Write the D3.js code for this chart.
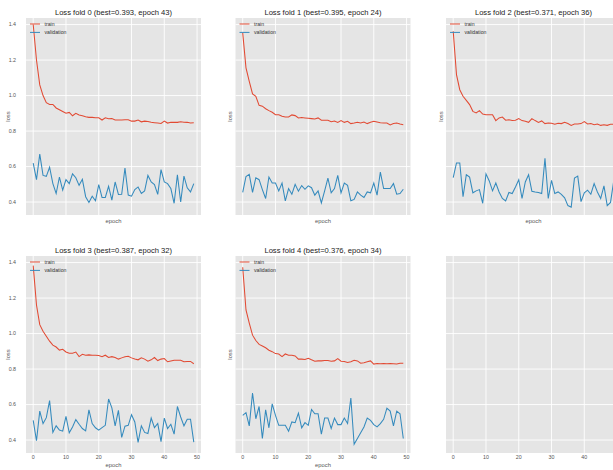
<!DOCTYPE html>
<html lang="en">
<head>
  <meta charset="UTF-8">
  <title>Loss folds</title>
  <script src="https://cdn.jsdelivr.net/npm/d3@7/dist/d3.min.js"></script>
  <style>
    body { margin: 0; background: #fff; }
    text { font-family: "Liberation Sans", Arial, sans-serif; }
  </style>
</head>
<body>
<div id="box"></div>
<script>
  // training loss per fold
  const train0 = [1.40, 1.20, 1.06, 1.00, 0.96, 0.95, 0.95, 0.93, 0.92, 0.91, 0.90, 0.905, 0.886, 0.90, 0.89, 0.886, 0.88, 0.877, 0.877, 0.875,
    0.875, 0.862, 0.875, 0.869, 0.871, 0.862, 0.862, 0.862, 0.864, 0.864, 0.856, 0.856, 0.862, 0.852, 0.856, 0.854, 0.849, 0.847, 0.845, 0.843,
    0.856, 0.845, 0.85, 0.849, 0.849, 0.852, 0.85, 0.849, 0.845, 0.847]
  const train1 = [1.353, 1.156, 1.08, 1.009, 0.996, 0.945, 0.94, 0.926, 0.915, 0.906, 0.892, 0.892, 0.883, 0.879, 0.879, 0.891, 0.887, 0.874, 0.876, 0.874,
    0.872, 0.870, 0.868, 0.874, 0.861, 0.861, 0.861, 0.853, 0.857, 0.849, 0.859, 0.849, 0.855, 0.842, 0.845, 0.849, 0.845, 0.851, 0.842, 0.849,
    0.855, 0.851, 0.847, 0.845, 0.845, 0.834, 0.842, 0.845, 0.840, 0.836]
  const train2 = [1.362, 1.118, 1.033, 0.996, 0.973, 0.949, 0.911, 0.902, 0.915, 0.896, 0.892, 0.892, 0.892, 0.859, 0.874, 0.879, 0.861, 0.864, 0.859, 0.861,
    0.870, 0.859, 0.855, 0.849, 0.870, 0.859, 0.849, 0.857, 0.842, 0.845, 0.844, 0.838, 0.844, 0.842, 0.849, 0.842, 0.832, 0.840, 0.840, 0.842,
    0.853, 0.840, 0.842, 0.836, 0.840, 0.832, 0.836, 0.832, 0.838, 0.838]
  const train3 = [1.383, 1.161, 1.05, 1.013, 0.985, 0.957, 0.935, 0.924, 0.907, 0.911, 0.896, 0.889, 0.889, 0.896, 0.870, 0.883, 0.878, 0.880, 0.878, 0.878,
    0.876, 0.870, 0.878, 0.865, 0.870, 0.865, 0.856, 0.863, 0.869, 0.872, 0.863, 0.856, 0.852, 0.863, 0.856, 0.844, 0.852, 0.865, 0.848, 0.856,
    0.859, 0.841, 0.846, 0.85, 0.85, 0.85, 0.841, 0.843, 0.843, 0.830]
  const train4 = [1.374, 1.133, 1.059, 0.991, 0.961, 0.939, 0.930, 0.920, 0.906, 0.898, 0.887, 0.885, 0.870, 0.885, 0.878, 0.878, 0.874, 0.856, 0.856, 0.854,
    0.861, 0.852, 0.844, 0.846, 0.846, 0.848, 0.848, 0.844, 0.846, 0.859, 0.844, 0.843, 0.837, 0.841, 0.850, 0.846, 0.833, 0.835, 0.841, 0.846,
    0.828, 0.831, 0.830, 0.831, 0.830, 0.831, 0.830, 0.828, 0.833, 0.833]

  // validation loss per fold
  const val0 = [0.619, 0.526, 0.670, 0.550, 0.545, 0.596, 0.504, 0.448, 0.541, 0.467, 0.526, 0.504, 0.559, 0.537, 0.494, 0.528, 0.430, 0.398, 0.433, 0.407,
    0.498, 0.426, 0.426, 0.489, 0.411, 0.513, 0.443, 0.444, 0.591, 0.439, 0.433, 0.470, 0.485, 0.448, 0.463, 0.550, 0.513, 0.498, 0.443, 0.583,
    0.513, 0.504, 0.476, 0.393, 0.554, 0.400, 0.546, 0.480, 0.457, 0.504]
  const val1 = [0.454, 0.544, 0.556, 0.454, 0.537, 0.526, 0.470, 0.420, 0.541, 0.507, 0.507, 0.463, 0.507, 0.406, 0.476, 0.444, 0.500, 0.461, 0.493, 0.472,
    0.491, 0.481, 0.439, 0.463, 0.395, 0.463, 0.535, 0.452, 0.476, 0.550, 0.452, 0.507, 0.494, 0.407, 0.415, 0.457, 0.439, 0.426, 0.457, 0.452,
    0.507, 0.439, 0.569, 0.476, 0.476, 0.476, 0.504, 0.444, 0.448, 0.472]
  const val2 = [0.537, 0.620, 0.620, 0.430, 0.554, 0.541, 0.452, 0.463, 0.470, 0.393, 0.559, 0.519, 0.463, 0.507, 0.457, 0.420, 0.406, 0.454, 0.448, 0.485,
    0.526, 0.420, 0.513, 0.554, 0.461, 0.457, 0.454, 0.448, 0.646, 0.420, 0.522, 0.448, 0.457, 0.443, 0.424, 0.380, 0.371, 0.535, 0.546, 0.402,
    0.452, 0.467, 0.444, 0.504, 0.457, 0.420, 0.491, 0.380, 0.398, 0.522]
  const val3 = [0.511, 0.396, 0.563, 0.493, 0.526, 0.622, 0.443, 0.480, 0.456, 0.450, 0.533, 0.441, 0.474, 0.515, 0.489, 0.465, 0.452, 0.570, 0.493, 0.469,
    0.456, 0.470, 0.483, 0.631, 0.581, 0.480, 0.567, 0.415, 0.478, 0.483, 0.543, 0.502, 0.387, 0.480, 0.443, 0.437, 0.524, 0.470, 0.493, 0.391,
    0.524, 0.465, 0.489, 0.433, 0.589, 0.530, 0.480, 0.517, 0.517, 0.388]
  const val4 = [0.539, 0.554, 0.480, 0.665, 0.520, 0.589, 0.409, 0.570, 0.469, 0.604, 0.539, 0.483, 0.483, 0.483, 0.450, 0.502, 0.498, 0.552, 0.469, 0.498,
    0.483, 0.572, 0.548, 0.548, 0.433, 0.524, 0.524, 0.465, 0.524, 0.487, 0.487, 0.524, 0.493, 0.637, 0.376, 0.409, 0.441, 0.474, 0.524, 0.511,
    0.487, 0.474, 0.493, 0.517, 0.580, 0.563, 0.480, 0.563, 0.548, 0.409]

  const bestLoss = ['0.393', '0.395', '0.371', '0.387', '0.376']
  const bestEpoch = [43, 24, 36, 32, 34]
  const xTicks = [0, 10, 20, 30, 40, 50]
  const yTicks = [0.4, 0.6, 0.8, 1.0, 1.2, 1.4]

  const trainRuns = [train0, train1, train2, train3, train4]
  const valRuns = [val0, val1, val2, val3, val4]

  const width = 613
  const height = 470
  const colX = [26, 235.5, 446]
  const rowY = [18, 256]
  const pw = 175
  const ph = 197

  const svg = d3.select('#box').append('svg')
    .attr('width', width)
    .attr('height', height)

  const xScale = d3.scaleLinear().domain([-2.2, 51.2]).range([0, pw])
  const yScale = d3.scaleLinear().domain([0.327, 1.437]).range([ph, 0])

  const line = d3.line()
    .x((d, i) => xScale(i))
    .y(d => yScale(d))

  // 6 panels, the last one is empty
  for (let p = 0; p < 6; p++) {
    const col = p % 3
    const row = Math.floor(p / 3)
    const g = svg.append('g').attr('transform', `translate(${colX[col]},${rowY[row]})`)

    g.append('rect').attr('width', pw).attr('height', ph).attr('fill', '#e5e5e5')

    // grid
    g.selectAll('.vg').data(xTicks).join('line')
      .attr('x1', d => xScale(d)).attr('x2', d => xScale(d))
      .attr('y1', 0).attr('y2', ph)
      .attr('stroke', '#fff').attr('stroke-width', 0.9)
    g.selectAll('.hg').data(yTicks).join('line')
      .attr('x1', 0).attr('x2', pw)
      .attr('y1', d => yScale(d)).attr('y2', d => yScale(d))
      .attr('stroke', '#fff').attr('stroke-width', 0.9)

    // y tick labels only on first column
    if (col === 0) {
      g.selectAll('.yl').data(yTicks).join('text')
        .attr('x', -10).attr('y', d => yScale(d)).attr('dy', '0.35em')
        .attr('text-anchor', 'end').attr('font-size', 5.3).attr('fill', '#555')
        .text(d => d.toFixed(1))
    }
    // x tick labels only on bottom row (those past the window edge are not visible)
    if (row === 1) {
      g.selectAll('.xl').data(xTicks.filter(d => colX[col] + xScale(d) + 4 < width)).join('text')
        .attr('x', d => xScale(d)).attr('y', ph + 6.3)
        .attr('text-anchor', 'middle').attr('font-size', 5.3).attr('fill', '#555')
        .text(d => d)
    }

    if (p > 4) continue

    // curves
    g.append('path').datum(trainRuns[p]).attr('d', line)
      .attr('fill', 'none').attr('stroke', '#e24a33').attr('stroke-width', 1.05)
    g.append('path').datum(valRuns[p]).attr('d', line)
      .attr('fill', 'none').attr('stroke', '#348abd').attr('stroke-width', 1.05)

    // title and labels
    g.append('text').attr('x', pw / 2).attr('y', -2.7)
      .attr('text-anchor', 'middle').attr('font-size', 7.6).attr('fill', '#222')
      .text(`Loss fold ${p} (best=${bestLoss[p]}, epoch ${bestEpoch[p]})`)
    g.append('text').attr('x', pw / 2).attr('y', row === 1 ? ph + 13.5 : ph + 8)
      .attr('text-anchor', 'middle').attr('font-size', 5.8).attr('fill', '#555')
      .text('epoch')
    const lx = col === 0 ? -17.7 : -5.5
    g.append('text').attr('transform', `translate(${lx},${ph / 2}) rotate(-90)`)
      .attr('dy', '0.35em').attr('text-anchor', 'middle').attr('font-size', 5.8).attr('fill', '#555')
      .text('loss')

    // legend
    const legend = [['train', '#e24a33'], ['validation', '#348abd']]
    legend.forEach(([name, color], i) => {
      const ly = 6 + i * 8.4
      g.append('line').attr('x1', 4).attr('x2', 14).attr('y1', ly).attr('y2', ly)
        .attr('stroke', color).attr('stroke-width', 1)
      g.append('text').attr('x', 18.5).attr('y', ly).attr('dy', '0.35em')
        .attr('font-size', 5.2).attr('fill', '#333').text(name)
    })
  }
</script>
</body>
</html>
